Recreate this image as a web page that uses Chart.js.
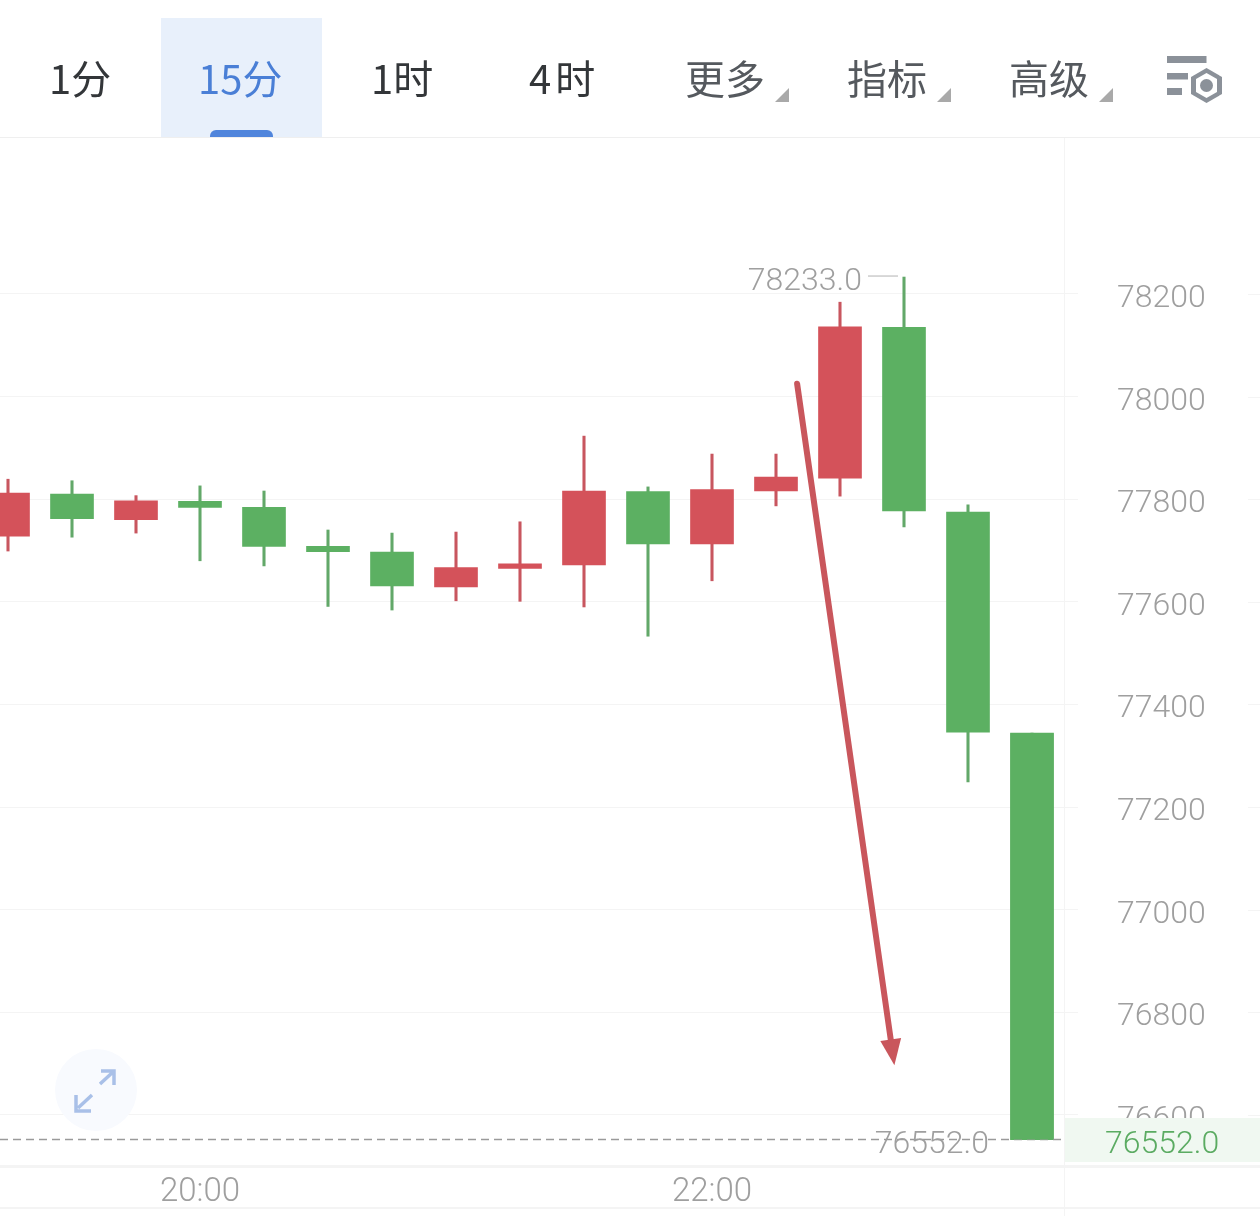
<!DOCTYPE html>
<html><head><meta charset="utf-8">
<style>
html,body{margin:0;padding:0;background:#fff;width:1260px;height:1216px;overflow:hidden}
#wrap{position:relative;width:1260px;height:1216px;font-family:"Noto Sans CJK SC",sans-serif}
canvas{position:absolute;left:0;top:0}
.bar{position:absolute;left:0;top:137px;width:1260px;height:1px;background:#efefef}
.active{position:absolute;left:161px;top:18px;width:161px;height:119px;background:#e8f0fb}
.under{position:absolute;left:210px;top:130px;width:63px;height:7px;background:#5085dc;border-radius:6px 6px 0 0}
.t{position:absolute;top:47px;line-height:60px;font-size:40px;white-space:nowrap;color:#333639}
.g{color:#55595e}
.tri{position:absolute;top:88px;width:14px;height:14px;background:#a9a9a9;clip-path:polygon(100% 0,100% 100%,0 100%)}
svg{position:absolute}
</style></head><body>
<div id="wrap">
<canvas id="c" width="1260" height="1216"></canvas>
<div class="active"></div><div class="under"></div><div class="bar"></div>
<div class="t" style="left:49px">1分</div>
<div class="t" style="left:198px;color:#4a7fd6">15分</div>
<div class="t" style="left:371px">1时</div>
<div class="t" style="left:529px;letter-spacing:4px">4时</div>
<div class="t g" style="left:685px">更多</div><div class="tri" style="left:775px"></div>
<div class="t g" style="left:847px">指标</div><div class="tri" style="left:937px"></div>
<div class="t g" style="left:1009px">高级</div><div class="tri" style="left:1099px"></div>
<svg style="left:1160px;top:50px" width="70" height="60" viewBox="0 0 70 60">
<rect x="7" y="6" width="39.5" height="7" fill="#8b9199"/><rect x="7" y="23" width="21" height="6.5" fill="#8b9199"/><rect x="7" y="38" width="15" height="7" fill="#8b9199"/>
<polygon points="46.5,18 62,27 62,44 46.5,53 31,44 31,27" fill="#8b9199"/>
<polygon points="46.5,23 57,29 57,42 46.5,48 36,42 36,29" fill="#fff"/>
<circle cx="46.5" cy="35.5" r="6.5" fill="#8b9199"/></svg>
<svg style="left:50px;top:1045px" width="92" height="92" viewBox="0 0 92 92">
<circle cx="46" cy="45" r="41" fill="#f8fafe"/>
<path d="M50 39 L63 27 M51 26 H64 V40 M42 50 L28 63 M26 50 V66 H41" fill="none" stroke="#a9c0e8" stroke-width="3.5"/></svg>
</div>
<script src="https://cdn.jsdelivr.net/npm/chart.js@4"></script>
<script>
const times = ["19:15","19:30","19:45","20:00","20:15","20:30","20:45","21:00","21:15","21:30","21:45","22:00","22:15","22:30","22:45","23:00","23:15"];
const opens = [77728,77810,77760,77796,77784,77708,77697,77629,77665,77672,77815,77713,77816,77841,78135,77775,77344];
const highs = [77839,77836,77807,77826,77816,77740,77734,77736,77756,77923,77824,77888,77888,78184,78233,77789,77344];
const lows  = [77699,77726,77734,77680,77670,77591,77584,77602,77601,77590,77533,77641,77787,77806,77746,77249,76552];
const closes= [77812,77762,77797,77784,77708,77698,77631,77667,77674,77816,77713,77819,77843,78136,77777,77346,76552];
const axisTicks = [76600,76800,77000,77200,77400,77600,77800,78000,78200];
const shownTimes = ["20:00","22:00"];
const arrowFrom = {x:12.33, y:78025};
const arrowTo   = {x:13.85, y:76697};

const RED="#d4525a", GREEN="#5cb062", REDW="#c8565f", GREENW="#62a869", GRID="#f4f4f4", LABEL="#9f9f9f";
const isUp = i => closes[i] >= opens[i];
const font = s => ({family:'Roboto, "Noto Sans", sans-serif', size:s, weight:'300'});

const overlay = {
  id:'overlay',
  afterDraw(ch){
    const c=ch.ctx, X=ch.scales.x, Y=ch.scales.y;
    c.save();
    c.fillStyle=GRID;
    c.fillRect(1064,138,1,1078);
    c.fillRect(0,1165,1260,3);
    c.fillRect(0,1207,1260,2);
    axisTicks.forEach(v=>c.fillRect(1248,Math.round(Y.getPixelForValue(v)),12,1));
    const last=closes[closes.length-1], ly=Y.getPixelForValue(last);
    c.fillStyle="#f0f8f1"; c.fillRect(1065,1118,195,44);
    c.strokeStyle="#9a9a9a"; c.lineWidth=1.5; c.setLineDash([8,5]);
    c.beginPath(); c.moveTo(0,ly); c.lineTo(1064,ly); c.stroke(); c.setLineDash([]);
    const lx=X.getPixelForValue(closes.length-1), oy=Y.getPixelForValue(opens[closes.length-1]);
    c.fillStyle=GREEN; c.fillRect(lx-21.5,oy,43,ly-oy);
    c.font='300 32px Roboto, "Noto Sans", sans-serif'; c.textBaseline='middle';
    c.textAlign='right'; c.fillStyle=LABEL;
    c.fillText(last.toFixed(1),lx-43,ly+5);
    c.textAlign='left'; c.fillStyle="#5bab62";
    c.fillText(last.toFixed(1),1105,ly+5);
    const hi=Math.max(...highs), hidx=highs.indexOf(hi), hx=X.getPixelForValue(hidx), hy=Y.getPixelForValue(hi);
    c.textAlign='right'; c.fillStyle=LABEL;
    c.fillText(hi.toFixed(1),hx-42,hy+5);
    c.strokeStyle="#cccccc"; c.lineWidth=1.5;
    c.beginPath(); c.moveTo(hx-36,hy-1); c.lineTo(hx-6,hy-1); c.stroke();
    const x0=X.getPixelForValue(arrowFrom.x), y0=Y.getPixelForValue(arrowFrom.y),
          x1=X.getPixelForValue(arrowTo.x), y1=Y.getPixelForValue(arrowTo.y);
    const a=Math.atan2(y1-y0,x1-x0), ux=Math.cos(a), uy=Math.sin(a);
    c.strokeStyle="#c9565c"; c.fillStyle="#c9565c"; c.lineWidth=6; c.lineCap='round';
    c.beginPath(); c.moveTo(x0,y0); c.lineTo(x1-ux*22,y1-uy*22); c.stroke();
    c.beginPath(); c.moveTo(x1,y1);
    c.lineTo(x1-ux*26-uy*10.5,y1-uy*26+ux*10.5);
    c.lineTo(x1-ux*26+uy*10.5,y1-uy*26-ux*10.5);
    c.closePath(); c.fill();
    c.restore();
  }
};

new Chart(document.getElementById('c'),{
  type:'bar',
  data:{datasets:[
    {label:'wick',barThickness:2.4,order:2,
     data:times.map((t,i)=>({x:i,y:[lows[i],highs[i]]})),
     backgroundColor:times.map((t,i)=>isUp(i)?REDW:GREENW)},
    {label:'body',barThickness:43,order:1,
     data:times.map((t,i)=>({x:i,y:[opens[i],closes[i]]})),
     backgroundColor:times.map((t,i)=>isUp(i)?RED:GREEN)}
  ]},
  options:{
    responsive:false,animation:false,
    datasets:{bar:{grouped:false}},
    layout:{padding:{top:138,left:0,right:0,bottom:0}},
    plugins:{legend:{display:false},tooltip:{enabled:false}},
    scales:{
      x:{type:'linear',offset:false,min:-0.125,max:16.5,
        grid:{display:false,drawTicks:false,offset:false},border:{display:false},
        afterBuildTicks:a=>{a.ticks=shownTimes.map(t=>({value:times.indexOf(t)}));},
        afterFit:a=>{a.height=51;a.paddingLeft=0;a.paddingRight=0;},
        ticks:{autoSkip:false,maxRotation:0,padding:8,color:LABEL,font:font(33),callback:v=>times[v]}},
      y:{type:'linear',position:'right',min:76502.4,max:78504,
        grid:{color:GRID,lineWidth:1,tickLength:14,drawTicks:true,tickColor:GRID},
        border:{display:false},
        afterBuildTicks:a=>{a.ticks=axisTicks.map(v=>({value:v}));},
        afterFit:a=>{a.width=196;a.paddingTop=0;a.paddingBottom=0;},
        ticks:{padding:39,labelOffset:5,color:LABEL,font:font(32),autoSkip:false,includeBounds:false,callback:v=>String(v)}}
    }
  },
  plugins:[overlay]
});
</script>
</body></html>
